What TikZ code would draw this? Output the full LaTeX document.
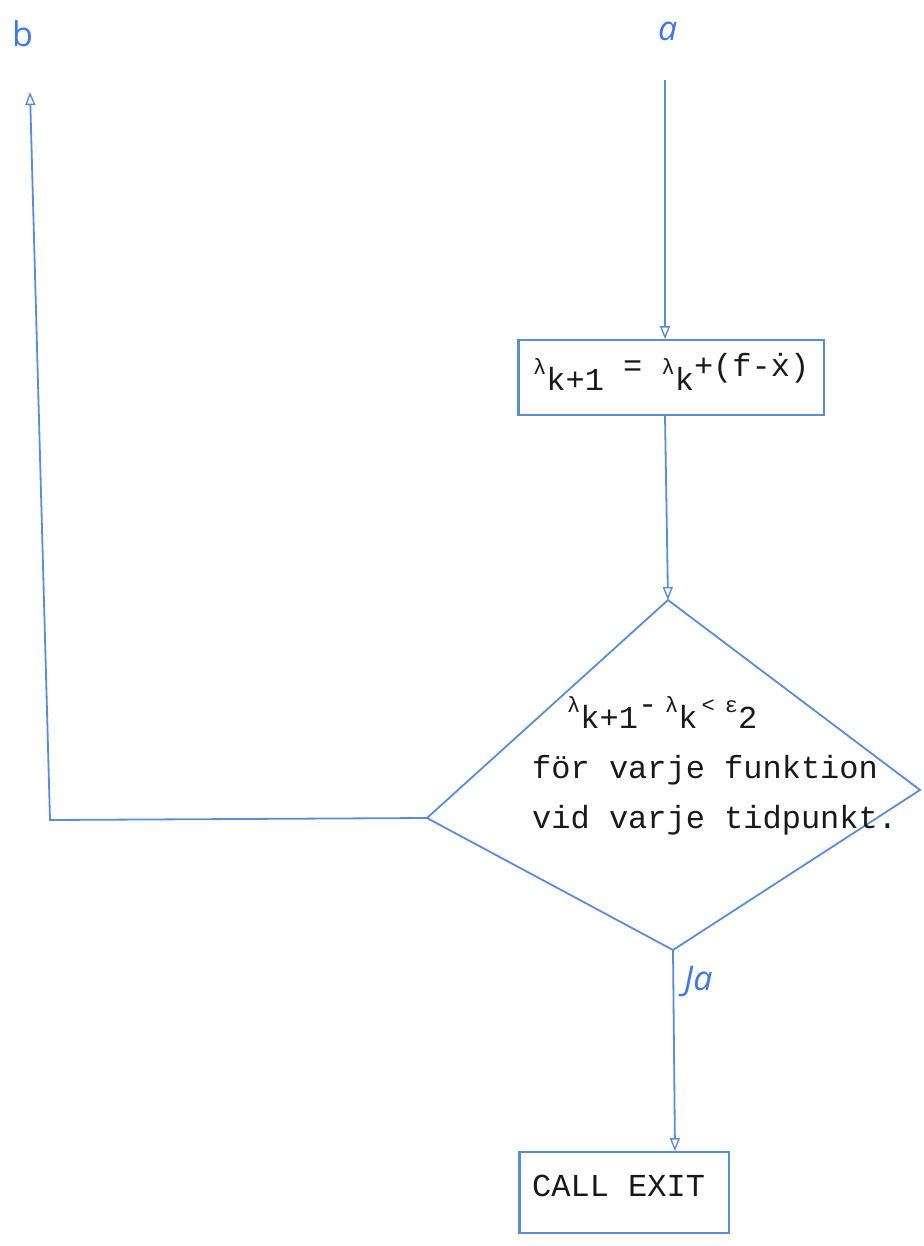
\documentclass[tikz,border=0pt]{standalone}
\usepackage{fontspec}
\setmonofont{Liberation Mono}
\newfontfamily\handfont{Open Sans}
\newfontfamily\handitfont{Open Sans}[UprightFont=*, ItalicFont=* Italic]
\usetikzlibrary{arrows.meta}
\definecolor{linec}{RGB}{90,140,215}
\definecolor{labc}{RGB}{65,120,230}
\definecolor{inkc}{RGB}{25,25,25}
\newcommand{\smlup}[1]{\raisebox{16pt}{\fontsize{22}{22}\selectfont #1}}
\newcommand{\rsdup}[1]{\raisebox{14pt}{#1}}
\begin{document}
\begin{tikzpicture}[x=1pt,y=-1pt,
  conn/.style={draw=linec, line width=1.8pt, -{Triangle[open,length=13pt,width=10pt,line width=1.4pt]}},
  plain/.style={draw=linec, line width=1.8pt},
  flowbox/.style={draw=linec, line width=1.8pt, inner sep=0pt},
  tt/.style={font=\ttfamily\fontsize{32}{34}\selectfont, text=inkc, inner sep=0pt, anchor=base west},
  hand/.style={font=\handfont\fontsize{34}{36}\selectfont, text=labc, inner sep=0pt, anchor=base west}]
\useasboundingbox (0,0) rectangle (923,1246);

% labels
\node[hand] (lb) at (12,47) {b};
\node[hand] (la) at (658,41) {\itshape a};
\node[hand] (lja) at (684,990) {\itshape Ja};

% boxes
\node[flowbox, minimum width=305pt, minimum height=75pt] (box1) at (671.5,377.5) {};
\node[flowbox, minimum width=209pt, minimum height=81pt] (box2) at (624.5,1192.5) {};
\draw[linec, line width=2.8pt] (box1.north west) -- (box1.south west);
\draw[linec, line width=2.8pt] (box2.north west) -- (box2.south west);

% diamond
\coordinate (dt) at (668,600);
\coordinate (dl) at (427,818);
\coordinate (dr) at (920,790);
\coordinate (db) at (673,950);
\draw[plain, line join=miter] (dt) -- (dr) -- (db) -- (dl) -- cycle;

% texts
\node[tt] (t1) at (533,390) {\smlup{λ}k+1 \rsdup{=} \smlup{λ}k\rsdup{+(f-\.{x})}};
\node[tt] (t2) at (567,728) {\smlup{λ}k+1\rsdup{-}\hspace{8pt}\smlup{λ}k\hspace{4pt}\smlup{<}\hspace{10pt}\smlup{ε}2};
\node[tt] (t3) at (532,778) {för varje funktion};
\node[tt] (t4) at (532,828) {vid varje tidpunkt.};
\node[tt] (t5) at (532,1196) {CALL EXIT};

% connectors
\coordinate (astart) at (665,80);
\coordinate (bcorner) at (50,820);
\coordinate (bend) at (30,92);
\draw[conn] (astart) -- (box1.north -| astart);
\draw[conn] (box1.south -| astart) -- (dt);
\draw[conn] (db) -- (box2.north -| 675,0);
\draw[conn] (dl) -- (bcorner) -- (bend);
\end{tikzpicture}
\end{document}
